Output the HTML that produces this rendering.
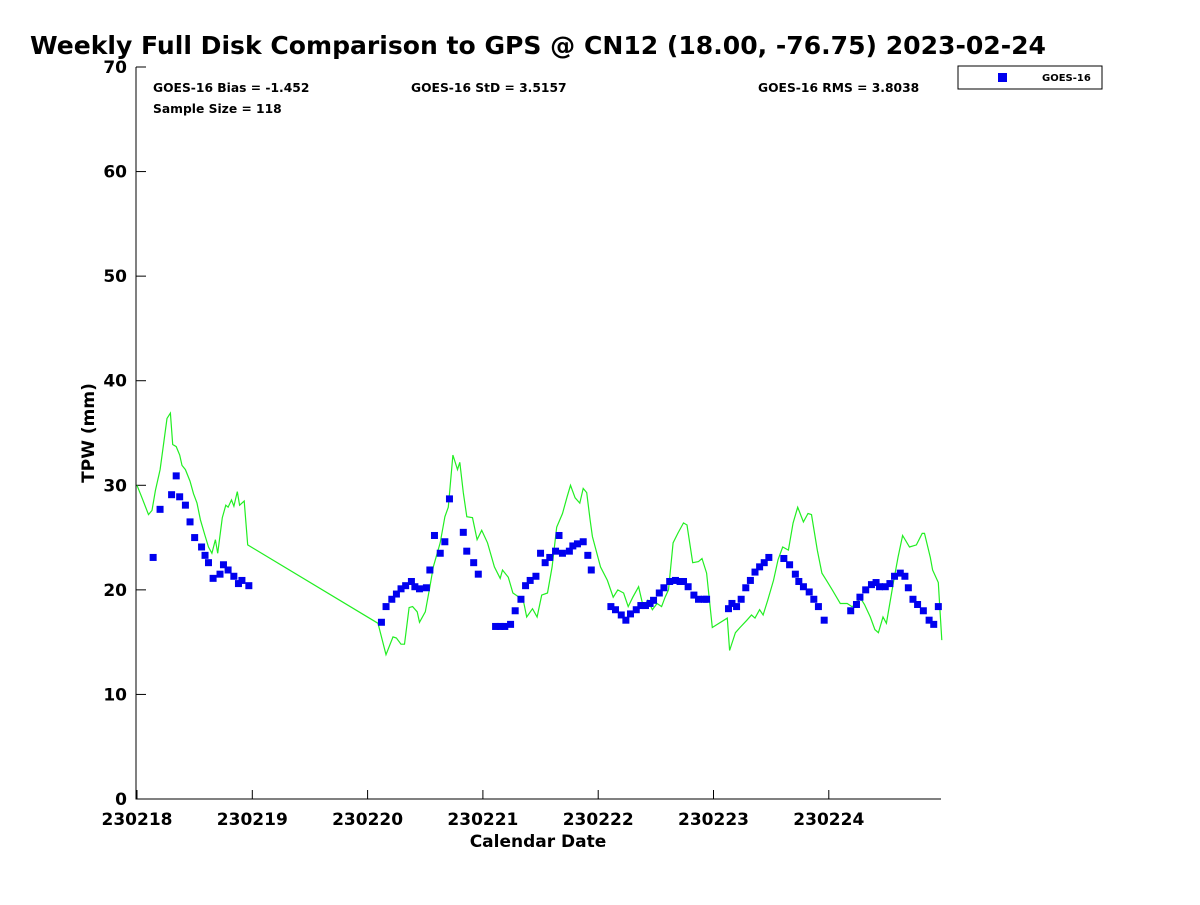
<!DOCTYPE html>
<html><head><meta charset="utf-8"><style>
body{margin:0;background:#fff;}
svg{font-family:"DejaVu Sans","Liberation Sans",sans-serif;}
</style></head><body>
<svg id="chart" width="1200" height="900" xmlns="http://www.w3.org/2000/svg">
<text x="30" y="54" font-size="25" font-weight="bold" textLength="1016" lengthAdjust="spacingAndGlyphs">Weekly Full Disk Comparison to GPS @ CN12 (18.00, -76.75) 2023-02-24</text>
<text x="153" y="92" font-size="12.3" font-weight="bold">GOES-16 Bias = -1.452</text>
<text x="153" y="113" font-size="12.3" font-weight="bold">Sample Size = 118</text>
<text x="411" y="92" font-size="12.3" font-weight="bold">GOES-16 StD = 3.5157</text>
<text x="758" y="92" font-size="12.3" font-weight="bold">GOES-16 RMS = 3.8038</text>
<g>
<rect x="958" y="66" width="144" height="23" fill="#fff" stroke="#000" stroke-width="1"/>
<rect x="998" y="73" width="9" height="9" fill="#0000ee"/>
<text x="1042" y="81" font-size="10" font-weight="bold">GOES-16</text>
</g>
<text x="538" y="847" font-size="17" font-weight="bold" text-anchor="middle">Calendar Date</text>
<text transform="translate(94,433) rotate(-90)" font-size="17" font-weight="bold" text-anchor="middle">TPW (mm)</text>
<g id="axes"></g>
<g id="series"></g>
</svg>
<script>
const xTickLabels=["230218","230219","230220","230221","230222","230223","230224"];
const yTicks=[0,10,20,30,40,50,60,70];
const goesT=[0.14,0.20,0.30,0.34,0.37,0.42,0.46,0.50,0.56,0.59,0.62,0.66,0.72,0.75,0.79,0.84,0.88,0.91,0.97,2.12,2.16,2.21,2.25,2.29,2.33,2.38,2.41,2.45,2.51,2.54,2.58,2.63,2.67,2.71,2.83,2.86,2.92,2.96,3.11,3.15,3.19,3.24,3.28,3.33,3.37,3.41,3.46,3.50,3.54,3.58,3.63,3.66,3.69,3.75,3.78,3.82,3.87,3.91,3.94,4.11,4.15,4.20,4.24,4.28,4.33,4.37,4.41,4.45,4.48,4.53,4.57,4.62,4.67,4.71,4.74,4.78,4.83,4.87,4.92,4.94,5.13,5.16,5.20,5.24,5.28,5.32,5.36,5.40,5.44,5.48,5.61,5.66,5.71,5.74,5.78,5.83,5.87,5.91,5.96,6.19,6.24,6.27,6.32,6.37,6.41,6.44,6.49,6.53,6.57,6.62,6.66,6.69,6.73,6.77,6.82,6.87,6.91,6.95];
const goesV=[23.1,27.7,29.1,30.9,28.9,28.1,26.5,25.0,24.1,23.3,22.6,21.1,21.5,22.4,21.9,21.3,20.6,20.9,20.4,16.9,18.4,19.1,19.6,20.1,20.4,20.8,20.3,20.1,20.2,21.9,25.2,23.5,24.6,28.7,25.5,23.7,22.6,21.5,16.5,16.5,16.5,16.7,18.0,19.1,20.4,20.9,21.3,23.5,22.6,23.1,23.7,25.2,23.5,23.7,24.2,24.4,24.6,23.3,21.9,18.4,18.1,17.6,17.1,17.7,18.1,18.5,18.5,18.7,19.0,19.7,20.2,20.8,20.9,20.8,20.8,20.3,19.5,19.1,19.1,19.1,18.2,18.7,18.4,19.1,20.2,20.9,21.7,22.2,22.6,23.1,23.0,22.4,21.5,20.8,20.3,19.8,19.1,18.4,17.1,18.0,18.6,19.3,20.0,20.5,20.7,20.3,20.3,20.6,21.3,21.6,21.3,20.2,19.1,18.6,18.0,17.1,16.7,18.4];
const gpsT=[0,0.04,0.10,0.13,0.16,0.20,0.23,0.26,0.29,0.31,0.34,0.37,0.39,0.42,0.46,0.49,0.52,0.55,0.59,0.62,0.65,0.68,0.70,0.74,0.77,0.79,0.82,0.84,0.87,0.89,0.93,0.96,2.09,2.16,2.22,2.25,2.29,2.32,2.36,2.39,2.43,2.45,2.50,2.54,2.57,2.63,2.67,2.70,2.74,2.78,2.80,2.83,2.86,2.91,2.95,2.99,3.04,3.10,3.15,3.17,3.22,3.26,3.30,3.35,3.38,3.43,3.47,3.51,3.56,3.60,3.64,3.69,3.73,3.76,3.80,3.84,3.87,3.90,3.93,3.95,4.02,4.08,4.13,4.17,4.22,4.26,4.30,4.35,4.39,4.43,4.47,4.51,4.55,4.58,4.61,4.65,4.69,4.74,4.77,4.82,4.87,4.90,4.94,4.99,5.12,5.14,5.19,5.23,5.29,5.33,5.36,5.40,5.43,5.47,5.52,5.56,5.60,5.65,5.69,5.73,5.78,5.82,5.85,5.90,5.94,5.98,6.03,6.10,6.16,6.20,6.24,6.27,6.31,6.36,6.40,6.43,6.47,6.50,6.56,6.60,6.64,6.70,6.76,6.81,6.83,6.88,6.90,6.95,6.98];
const gpsV=[30.0,28.9,27.2,27.6,29.5,31.5,33.9,36.4,36.9,33.9,33.7,32.9,31.9,31.5,30.4,29.2,28.3,26.7,25.2,24.1,23.5,24.8,23.5,26.9,28.1,27.9,28.6,28.0,29.4,28.1,28.5,24.3,16.8,13.8,15.5,15.4,14.8,14.8,18.3,18.4,17.9,16.9,17.9,20.3,22.2,24.5,27.0,27.9,32.9,31.5,32.2,29.3,27.0,26.9,24.8,25.7,24.5,22.2,21.1,21.9,21.2,19.7,19.4,19.0,17.4,18.2,17.4,19.5,19.7,22.2,26.0,27.3,28.9,30.0,28.8,28.3,29.7,29.3,26.7,25.1,22.2,20.9,19.3,20.0,19.7,18.4,19.3,20.3,18.4,19.0,18.1,18.7,18.4,19.3,20.0,24.5,25.4,26.4,26.2,22.6,22.7,23.0,21.6,16.4,17.3,14.2,15.9,16.4,17.1,17.6,17.3,18.1,17.6,19.0,20.9,22.9,24.1,23.8,26.4,27.9,26.5,27.3,27.2,23.8,21.6,20.9,20.0,18.7,18.7,18.4,18.6,19.3,18.6,17.4,16.2,15.9,17.4,16.8,20.7,23.1,25.2,24.1,24.3,25.4,25.4,23.1,21.9,20.7,15.2];

const NS="http://www.w3.org/2000/svg";
const X0=137,DAYPX=115.3,YB=799,YT=67,YMAX=70;
const xs=t=>X0+t*DAYPX;
const ys=v=>YB-(v/YMAX)*(YB-YT);
const axes=document.getElementById('axes'),series=document.getElementById('series');
function mk(tag,attrs,parent){const e=document.createElementNS(NS,tag);for(const k in attrs)e.setAttribute(k,attrs[k]);parent.appendChild(e);return e;}

const frame=mk('path',{d:`M136,${YT} V${YB} H941`,fill:'none',stroke:'#000','stroke-width':1},axes);


yTicks.forEach(v=>{
  const y=ys(v);
  const tk=mk('line',{x1:136,x2:146,y1:y,y2:y,stroke:'#000'},axes);
  
  
  const tx=mk('text',{x:127,y:y+6,'font-size':17,'font-weight':'bold','text-anchor':'end'},axes);
  tx.textContent=v;
  
  
});
xTickLabels.forEach((lab,i)=>{
  const x=xs(i);
  const tk=mk('line',{x1:x,x2:x,y1:YB,y2:YB-9,stroke:'#000'},axes);
  
  
  const tx=mk('text',{x:x,y:825,'font-size':17,'font-weight':'bold','text-anchor':'middle'},axes);
  tx.textContent=lab;
  
  
});
const pts=gpsT.map((t,i)=>xs(t).toFixed(1)+','+ys(gpsV[i]).toFixed(1)).join(' ');
const line=mk('polyline',{points:pts,fill:'none',stroke:'#22ee22','stroke-width':1.2},series);


goesT.forEach((t,i)=>{
  const r=mk('rect',{x:xs(t)-3.5,y:ys(goesV[i])-3.5,width:7,height:7,fill:'#0000ee'},series);
  
  
});
</script>
</body></html>
